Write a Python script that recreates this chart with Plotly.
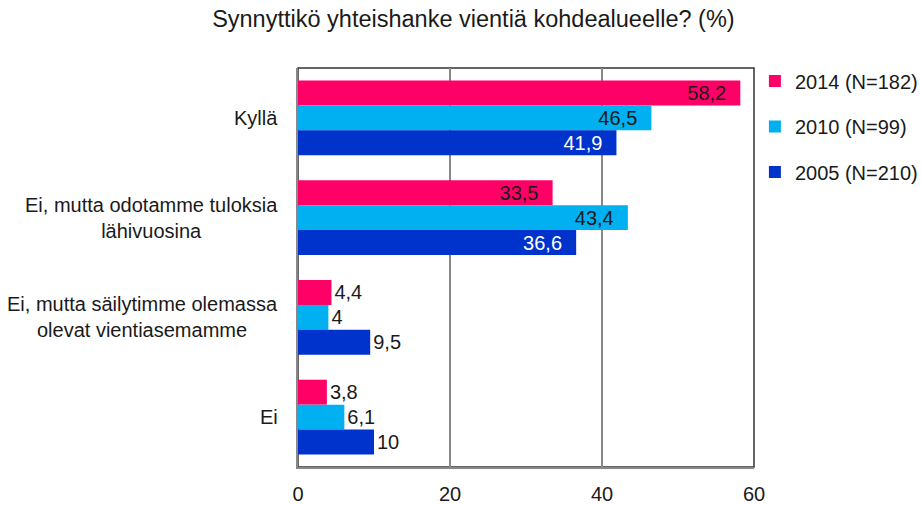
import plotly.graph_objects as go

categories = ["Kyllä", "Ei, mutta odotamme tuloksia<br>lähivuosina",
              "Ei, mutta säilytimme olemassa<br>olevat vientiasemamme", "Ei"]
series_names = ["2014 (N=182)", "2010 (N=99)", "2005 (N=210)"]
values_2014 = [58.2, 33.5, 4.4, 3.8]
values_2010 = [46.5, 43.4, 4, 6.1]
values_2005 = [41.9, 36.6, 9.5, 10]
colors = ["#FF0066", "#00B0F0", "#0033CC"]
inside_text_colors = ["#1a1a1a", "#1a1a1a", "#FFFFFF"]
x_ticks = [0, 20, 40, 60]
title = "Synnyttikö yhteishanke vientiä kohdealueelle? (%)"

FONT = "Liberation Sans, Arial, sans-serif"
NB = "\u00a0\u00a0"

fig = go.Figure()
for name, vals, col, tcol in zip(series_names, [values_2014, values_2010, values_2005], colors, inside_text_colors):
    labels, positions, tcolors = [], [], []
    for v in vals:
        s = f"{v:g}".replace(".", ",")
        if v > 20:
            labels.append(s + NB)
            positions.append("inside")
            tcolors.append(tcol)
        else:
            labels.append(s)
            positions.append("outside")
            tcolors.append("#1a1a1a")
    fig.add_trace(go.Bar(
        y=categories, x=vals, name=name, orientation="h",
        marker=dict(color=col, line=dict(width=0)),
        text=labels, textposition=positions,
        insidetextanchor="end", constraintext="none",
        textfont=dict(family=FONT, size=20, color=tcolors),
        cliponaxis=False, legendgroup=name,
    ))

for c in categories:
    fig.add_annotation(x=0, xref="paper", y=c, yref="y", text=c, showarrow=False,
                       xanchor="right", align="center", xshift=-18,
                       font=dict(family=FONT, size=20, color="#1a1a1a"))

fig.add_shape(type="rect", xref="paper", yref="paper", x0=0, x1=1, y0=0, y1=1,
              line=dict(color="#333333", width=1.5), layer="below")

fig.update_layout(
    width=921, height=505,
    margin=dict(l=298, r=167, t=68, b=38, autoexpand=False),
    paper_bgcolor="white", plot_bgcolor="white",
    font=dict(family=FONT, size=20, color="#1a1a1a"),
    title=dict(text=title, x=0.514, xanchor="center", y=0.962, yanchor="middle",
               font=dict(family=FONT, size=23.5, color="#1a1a1a")),
    barmode="group", bargap=0.25, bargroupgap=0,
    showlegend=True,
    legend=dict(x=1.002, xanchor="left", y=1.016, yanchor="top", tracegroupgap=16.5,
                font=dict(family=FONT, size=20, color="#1a1a1a"),
                bgcolor="rgba(0,0,0,0)"),
    xaxis=dict(range=[0, 60], tickvals=x_ticks, showgrid=True, gridcolor="#888888",
               gridwidth=1.5, zeroline=False, showline=True, linecolor="#888888",
               linewidth=2, ticks="", ticklabelstandoff=8,
               tickfont=dict(family=FONT, size=20, color="#1a1a1a"), fixedrange=True),
    yaxis=dict(autorange="reversed", showticklabels=False, showgrid=False,
               showline=True, linecolor="#888888", linewidth=2, ticks="", fixedrange=True),
)

fig.write_html("out.html", config={"displayModeBar": False},
               post_script="document.body.style.margin='0px';")
